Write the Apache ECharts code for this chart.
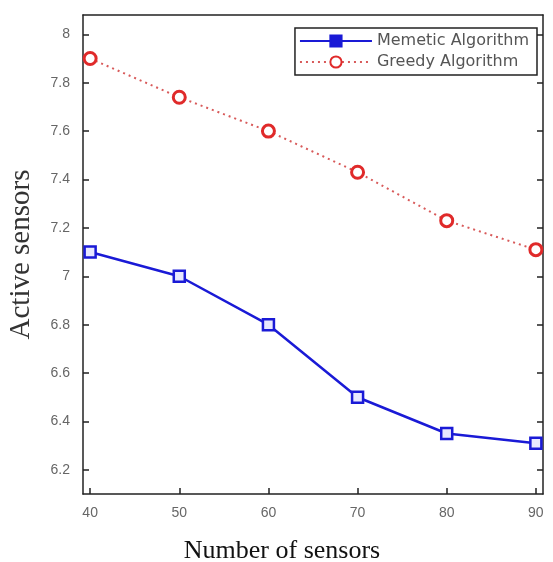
<!DOCTYPE html>
<html><head><meta charset="utf-8">
<script src="https://cdn.jsdelivr.net/npm/echarts@6/dist/echarts.min.js"></script>
<style>html,body{margin:0;padding:0;background:#fff}#c{width:553px;height:562px}</style>
</head><body><div id="c"></div>
<script>
const sensors = [40, 50, 60, 70, 80, 90];
const memetic = [7.1, 7.0, 6.8, 6.5, 6.35, 6.31];
const greedy = [7.9, 7.74, 7.6, 7.43, 7.23, 7.11];
const xTicks = [40, 50, 60, 70, 80, 90];
const yTicks = [6.2, 6.4, 6.6, 6.8, 7.0, 7.2, 7.4, 7.6, 7.8, 8.0];

const chart = echarts.init(document.getElementById('c'));
const axisLine = {show: true, lineStyle: {color: '#222', width: 1.5}};
const tick = {show: true, inside: true, length: 6, lineStyle: {color: '#222', width: 1.5}};
chart.setOption({
  animation: false,
  backgroundColor: '#fff',
  grid: {left: 83, right: 10, top: 15, bottom: 68, outerBoundsMode: 'none', containLabel: false},
  legend: {
    orient: 'vertical', right: 16, top: 28,
    backgroundColor: '#fff', borderColor: '#222', borderWidth: 1.5,
    padding: [5, 8, 5, 4], itemGap: 5, itemWidth: 72, itemHeight: 14,
    textStyle: {fontFamily: 'DejaVu Sans, sans-serif', fontSize: 16, color: '#555'},
    data: [{name: 'Memetic Algorithm', itemStyle: {color: '#1a1ad6'}}, {name: 'Greedy Algorithm'}]
  },
  xAxis: [{
    type: 'value', min: 39.2, max: 90.8,
    name: 'Number of sensors', nameLocation: 'middle', nameGap: 44,
    nameTextStyle: {fontFamily: 'Liberation Serif, Times New Roman, serif', fontSize: 26, color: '#111',
      verticalAlign: 'top', padding: [0, 62, 0, 0]},
    axisLine: axisLine,
    axisTick: Object.assign({}, tick, {customValues: xTicks}),
    axisLabel: {customValues: xTicks, color: '#666', fontSize: 14, margin: 12, fontFamily: 'Liberation Sans, Arial, sans-serif'},
    splitLine: {show: false}
  }, {
    type: 'value', position: 'top', min: 39.2, max: 90.8,
    axisLine: axisLine, axisTick: {show: false}, axisLabel: {show: false}, splitLine: {show: false}
  }],
  yAxis: [{
    type: 'value', min: 6.1, max: 8.08,
    name: 'Active sensors', nameLocation: 'middle', nameGap: 47,
    nameTextStyle: {fontFamily: 'Liberation Serif, Times New Roman, serif', fontSize: 29, color: '#333'},
    axisLine: axisLine,
    axisTick: Object.assign({}, tick, {customValues: yTicks}),
    axisLabel: {customValues: yTicks, color: '#666', fontSize: 14, margin: 13, fontFamily: 'Liberation Sans, Arial, sans-serif',
      formatter: v => String(Math.round(v * 10) / 10)},
    splitLine: {show: false}
  }, {
    type: 'value', position: 'right', min: 6.1, max: 8.08,
    axisLine: axisLine,
    axisTick: Object.assign({}, tick, {customValues: yTicks}),
    axisLabel: {show: false}, splitLine: {show: false}
  }],
  series: [{
    name: 'Memetic Algorithm', type: 'line',
    data: sensors.map((x, i) => [x, memetic[i]]),
    lineStyle: {color: '#1a1ad6', width: 2.5},
    itemStyle: {color: '#e8e8ff', borderColor: '#1a1ad6', borderWidth: 2.5},
    symbol: 'rect', symbolSize: 11, showAllSymbol: true
  }, {
    name: 'Greedy Algorithm', type: 'line',
    data: sensors.map((x, i) => [x, greedy[i]]),
    lineStyle: {color: '#d85a5a', width: 2, type: [2, 4]},
    itemStyle: {color: '#fff', borderColor: '#e02a2a', borderWidth: 3},
    symbol: 'circle', symbolSize: 12, showAllSymbol: true
  }]
});
</script></body></html>
